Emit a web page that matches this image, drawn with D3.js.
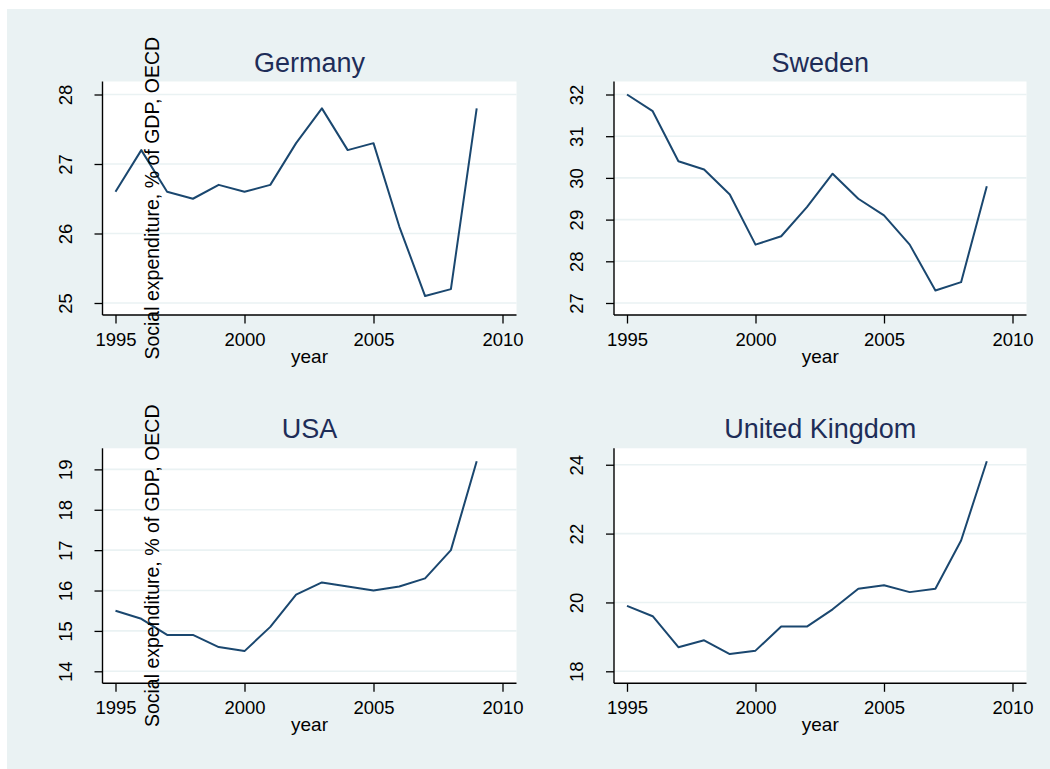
<!DOCTYPE html>
<html>
<head>
<meta charset="utf-8">
<script src="https://cdn.jsdelivr.net/npm/d3@7"></script>
<style>
  body { margin: 0; background: #ffffff; }
  text { font-family: "Liberation Sans", Arial, sans-serif; }
</style>
</head>
<body>
<div id="chart"></div>
<script>
// Data
const years = [1995, 1996, 1997, 1998, 1999, 2000, 2001, 2002, 2003, 2004, 2005, 2006, 2007, 2008, 2009];
const yearTicks = [1995, 2000, 2005, 2010];

const germany = [26.6, 27.2, 26.6, 26.5, 26.7, 26.6, 26.7, 27.3, 27.8, 27.2, 27.3, 26.1, 25.1, 25.2, 27.8];
const sweden  = [32.0, 31.6, 30.4, 30.2, 29.6, 28.4, 28.6, 29.3, 30.1, 29.5, 29.1, 28.4, 27.3, 27.5, 29.8];
const usa     = [15.5, 15.3, 14.9, 14.9, 14.6, 14.5, 15.1, 15.9, 16.2, 16.1, 16.0, 16.1, 16.3, 17.0, 19.2];
const uk      = [19.9, 19.6, 18.7, 18.9, 18.5, 18.6, 19.3, 19.3, 19.8, 20.4, 20.5, 20.3, 20.4, 21.8, 24.1];

const germanyTicks = [25, 26, 27, 28];
const swedenTicks  = [27, 28, 29, 30, 31, 32];
const usaTicks     = [14, 15, 16, 17, 18, 19];
const ukTicks      = [18, 20, 22, 24];

const titles = ['Germany', 'Sweden', 'USA', 'United Kingdom'];
const yTitle = 'Social expenditure, % of GDP, OECD';
const xTitle = 'year';

// Canvas
const width = 1050, height = 769;
const bgColor = '#eaf2f3';
const lineColor = '#1a476f';
const titleColor = '#1e2d58';

const svg = d3.select('#chart').append('svg')
    .attr('width', width)
    .attr('height', height);

svg.append('rect')
    .attr('x', 7).attr('y', 9)
    .attr('width', width - 7).attr('height', height - 9)
    .attr('fill', bgColor);

// plot region geometry (columns / rows)
const cols = [{left: 102.5, right: 516.5}, {left: 614, right: 1026.5}];
const rows = [{top: 81.5, bottom: 315}, {top: 448.3, bottom: 683.3}];

const panels = [
    {title: titles[0], values: germany, ticks: germanyTicks, col: 0, row: 0},
    {title: titles[1], values: sweden,  ticks: swedenTicks,  col: 1, row: 0},
    {title: titles[2], values: usa,     ticks: usaTicks,     col: 0, row: 1},
    {title: titles[3], values: uk,      ticks: ukTicks,      col: 1, row: 1}
];

function drawPanel(p) {
    const c = cols[p.col], r = rows[p.row];
    const g = svg.append('g');

    const x = d3.scaleLinear()
        .domain([yearTicks[0], yearTicks[yearTicks.length - 1]])
        .range([c.left + 13, c.right - 14]);

    const lo = Math.min(d3.min(p.values), d3.min(p.ticks));
    const hi = Math.max(d3.max(p.values), d3.max(p.ticks));
    const y = d3.scaleLinear()
        .domain([lo, hi])
        .range([r.bottom - 12, r.top + 13]);

    // plot region
    g.append('rect')
        .attr('x', c.left).attr('y', r.top)
        .attr('width', c.right - c.left).attr('height', r.bottom - r.top)
        .attr('fill', '#ffffff');

    // gridlines
    g.selectAll('.grid')
        .data(p.ticks)
        .enter().append('line')
        .attr('x1', c.left).attr('x2', c.right)
        .attr('y1', d => y(d)).attr('y2', d => y(d))
        .attr('stroke', bgColor)
        .attr('stroke-width', 1.6);

    // series line
    g.append('path')
        .datum(years.map((yr, i) => [yr, p.values[i]]))
        .attr('fill', 'none')
        .attr('stroke', lineColor)
        .attr('stroke-width', 2)
        .attr('stroke-linejoin', 'round')
        .attr('d', d3.line().x(d => x(d[0])).y(d => y(d[1])));

    // y axis
    const yAxis = g.append('g')
        .attr('transform', `translate(${c.left},0)`)
        .call(d3.axisLeft(y).tickValues(p.ticks).tickSize(8).tickSizeOuter(0).tickFormat(d3.format('d')));
    yAxis.select('.domain').remove();
    yAxis.selectAll('line').attr('stroke', '#000').attr('stroke-width', 1.3);
    yAxis.selectAll('text')
        .attr('x', null).attr('dy', null)
        .attr('text-anchor', 'middle')
        .attr('transform', 'translate(-31,0) rotate(-90)')
        .attr('font-size', '18.5px')
        .attr('font-family', '"Liberation Sans", Arial, sans-serif')
        .attr('fill', '#000');

    // x axis
    const xAxis = g.append('g')
        .attr('transform', `translate(0,${r.bottom})`)
        .call(d3.axisBottom(x).tickValues(yearTicks).tickSize(8.5).tickSizeOuter(0).tickFormat(d3.format('d')));
    xAxis.select('.domain').remove();
    xAxis.selectAll('line').attr('stroke', '#000').attr('stroke-width', 1.3);
    xAxis.selectAll('text')
        .attr('y', 30.7).attr('dy', null)
        .attr('font-size', '18.5px')
        .attr('font-family', '"Liberation Sans", Arial, sans-serif')
        .attr('fill', '#000');

    // axis lines
    g.append('line')
        .attr('x1', c.left).attr('x2', c.left)
        .attr('y1', r.top).attr('y2', r.bottom)
        .attr('stroke', '#000').attr('stroke-width', 1.4);
    g.append('line')
        .attr('x1', c.left).attr('x2', c.right)
        .attr('y1', r.bottom).attr('y2', r.bottom)
        .attr('stroke', '#000').attr('stroke-width', 1.4);

    const cx = (c.left + c.right) / 2;

    // panel title
    g.append('text')
        .attr('x', cx).attr('y', r.top - 10)
        .attr('text-anchor', 'middle')
        .attr('font-size', '27px')
        .attr('fill', titleColor)
        .text(p.title);

    // x title
    g.append('text')
        .attr('x', cx).attr('y', r.bottom + 47.5)
        .attr('text-anchor', 'middle')
        .attr('font-size', '19px')
        .attr('fill', '#000')
        .text(xTitle);

    // y title, only on the left column
    if (p.col === 0) {
        g.append('text')
            .attr('transform', `translate(158.5,${(r.top + r.bottom) / 2}) rotate(-90)`)
            .attr('text-anchor', 'middle')
            .attr('font-size', '19.5px')
            .attr('fill', '#000')
            .text(yTitle);
    }
}

panels.forEach(drawPanel);
</script>
</body>
</html>
